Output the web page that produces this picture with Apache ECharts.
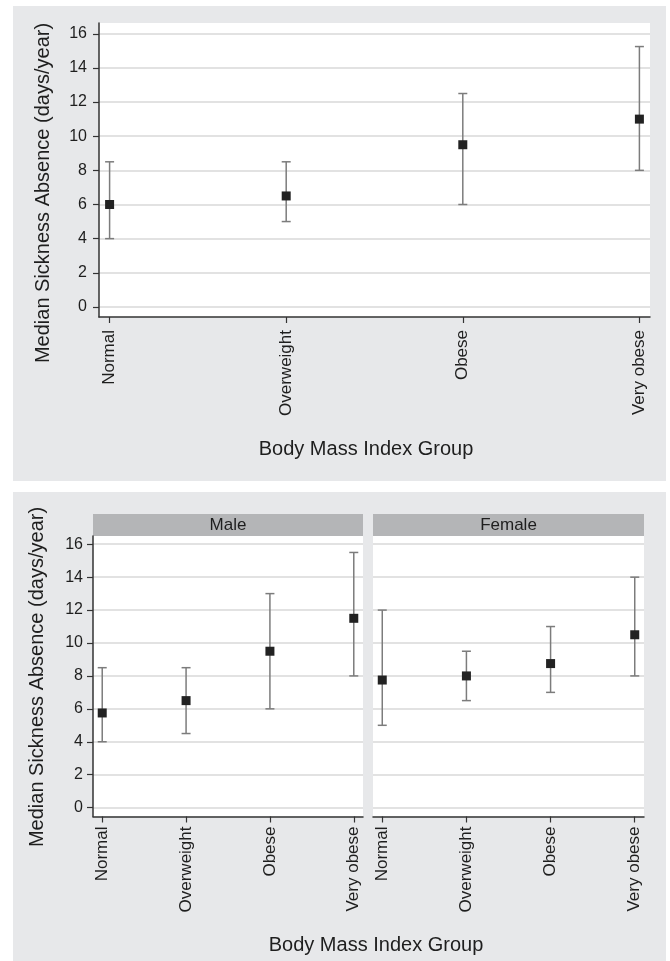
<!DOCTYPE html>
<html>
<head>
<meta charset="utf-8">
<script src="https://cdn.jsdelivr.net/npm/echarts@6/dist/echarts.min.js"></script>
<style>
  html, body { margin: 0; padding: 0; background: #ffffff; }
  #chart { width: 670px; height: 961px; }
</style>
</head>
<body>
<div id="chart"></div>
<script>
// ---- data ----
const categories = ['Normal', 'Overweight', 'Obese', 'Very obese'];
const yTickValues = [0, 2, 4, 6, 8, 10, 12, 14, 16];

const allMedian = [6, 6.5, 9.5, 11];
const allLower  = [4, 5, 6, 8];
const allUpper  = [8.5, 8.5, 12.5, 15.25];

const maleMedian = [5.75, 6.5, 9.5, 11.5];
const maleLower  = [4, 4.5, 6, 8];
const maleUpper  = [8.5, 8.5, 13, 15.5];

const femaleMedian = [7.75, 8, 8.75, 10.5];
const femaleLower  = [5, 6.5, 7, 8];
const femaleUpper  = [12, 9.5, 11, 14];

const panelNames = ['Male', 'Female'];
const yTitle = 'Median Sickness Absence (days/year)';
const xTitle = 'Body Mass Index Group';

// ---- styles ----
const FONT = 'Liberation Sans, Arial, sans-serif';
const TEXT = '#1e1e1e';
const AXIS = '#333333';
const GRIDC = '#d9d9d9';
const WHISK = '#7c7c7c';
const MARK = '#222222';
const PANEL = '#e7e8ea';
const STRIP = '#b4b5b7';

const chart = echarts.init(document.getElementById('chart'), null, { renderer: 'canvas' });

function errorBarItem(params, api) {
  const x = api.value(0), lo = api.value(1), hi = api.value(2);
  const pLo = api.coord([x, lo]);
  const pHi = api.coord([x, hi]);
  const hw = 4.5;
  const style = { stroke: WHISK, lineWidth: 1.5 };
  return {
    type: 'group',
    children: [
      { type: 'line', shape: { x1: pLo[0], y1: pLo[1], x2: pHi[0], y2: pHi[1] }, style: style },
      { type: 'line', shape: { x1: pHi[0] - hw, y1: pHi[1], x2: pHi[0] + hw, y2: pHi[1] }, style: style },
      { type: 'line', shape: { x1: pLo[0] - hw, y1: pLo[1], x2: pLo[0] + hw, y2: pLo[1] }, style: style }
    ]
  };
}

function xAxisDef(gridIndex, min, max, margin) {
  return {
    type: 'value', gridIndex: gridIndex, min: min, max: max,
    axisLine: { show: true, onZero: false, lineStyle: { color: AXIS, width: 1.5 } },
    axisTick: { show: true, length: 6, customValues: [0, 1, 2, 3], lineStyle: { color: AXIS, width: 1.2 } },
    axisLabel: {
      show: true, rotate: 90, margin: margin, customValues: [0, 1, 2, 3],
      formatter: function (v) { return categories[Math.round(v)]; },
      fontFamily: FONT, fontSize: 17, color: TEXT
    },
    splitLine: { show: false }
  };
}

function yAxisDef(gridIndex, min, max, showAxis, margin) {
  return {
    type: 'value', gridIndex: gridIndex, min: min, max: max,
    axisLine: { show: showAxis, onZero: false, lineStyle: { color: AXIS, width: 1.5 } },
    axisTick: { show: showAxis, length: 6, customValues: yTickValues, lineStyle: { color: AXIS, width: 1.2 } },
    axisLabel: {
      show: showAxis, margin: margin, customValues: yTickValues,
      fontFamily: FONT, fontSize: 16, color: TEXT
    },
    splitLine: { show: true, lineStyle: { color: GRIDC, width: 1.5 } }
  };
}

function seriesFor(idx, median, lower, upper) {
  return [
    {
      type: 'custom', xAxisIndex: idx, yAxisIndex: idx,
      renderItem: errorBarItem,
      data: categories.map(function (c, i) { return [i, lower[i], upper[i]]; }),
      z: 2, silent: true, animation: false
    },
    {
      type: 'scatter', xAxisIndex: idx, yAxisIndex: idx,
      symbol: 'rect', symbolSize: [9, 9],
      itemStyle: { color: MARK, opacity: 1 },
      data: categories.map(function (c, i) { return [i, median[i]]; }),
      z: 3, silent: true, animation: false
    }
  ];
}

const option = {
  backgroundColor: '#ffffff',
  animation: false,
  graphic: [
    { type: 'rect', z: -10, shape: { x: 13, y: 6, width: 653, height: 475 }, style: { fill: PANEL } },
    { type: 'rect', z: -10, shape: { x: 13, y: 492, width: 653, height: 469 }, style: { fill: PANEL } },
    { type: 'rect', z: -5, shape: { x: 93, y: 514, width: 270, height: 22 }, style: { fill: STRIP } },
    { type: 'rect', z: -5, shape: { x: 373, y: 514, width: 271, height: 22 }, style: { fill: STRIP } },
    { type: 'text', z: 5, x: 228, y: 525.5, style: { text: panelNames[0], fontFamily: FONT, fontSize: 17, fill: TEXT, align: 'center', verticalAlign: 'middle' } },
    { type: 'text', z: 5, x: 508.5, y: 525.5, style: { text: panelNames[1], fontFamily: FONT, fontSize: 17, fill: TEXT, align: 'center', verticalAlign: 'middle' } },
    { type: 'text', z: 5, x: 43, y: 193, rotation: Math.PI / 2, style: { text: yTitle, fontFamily: FONT, fontSize: 20, fill: TEXT, align: 'center', verticalAlign: 'middle' } },
    { type: 'text', z: 5, x: 37, y: 677, rotation: Math.PI / 2, style: { text: yTitle, fontFamily: FONT, fontSize: 20, fill: TEXT, align: 'center', verticalAlign: 'middle' } },
    { type: 'text', z: 5, x: 366, y: 449, style: { text: xTitle, fontFamily: FONT, fontSize: 20, fill: TEXT, align: 'center', verticalAlign: 'middle' } },
    { type: 'text', z: 5, x: 376, y: 945, style: { text: xTitle, fontFamily: FONT, fontSize: 20, fill: TEXT, align: 'center', verticalAlign: 'middle' } }
  ],
  grid: [
    { left: 99, top: 23, width: 551, height: 294, show: true, backgroundColor: '#ffffff', borderWidth: 0 },
    { left: 93, top: 536, width: 270, height: 280.5, show: true, backgroundColor: '#ffffff', borderWidth: 0 },
    { left: 373, top: 536, width: 271, height: 280.5, show: true, backgroundColor: '#ffffff', borderWidth: 0 }
  ],
  xAxis: [
    xAxisDef(0, -0.06, 3.06, 13),
    xAxisDef(1, -0.11, 3.11, 10),
    xAxisDef(2, -0.11, 3.11, 10)
  ],
  yAxis: [
    yAxisDef(0, -0.59, 16.63, true, 12),
    yAxisDef(1, -0.54, 16.5, true, 10),
    yAxisDef(2, -0.54, 16.5, false, 10)
  ],
  series: [].concat(
    seriesFor(0, allMedian, allLower, allUpper),
    seriesFor(1, maleMedian, maleLower, maleUpper),
    seriesFor(2, femaleMedian, femaleLower, femaleUpper)
  )
};

chart.setOption(option);
</script>
</body>
</html>
